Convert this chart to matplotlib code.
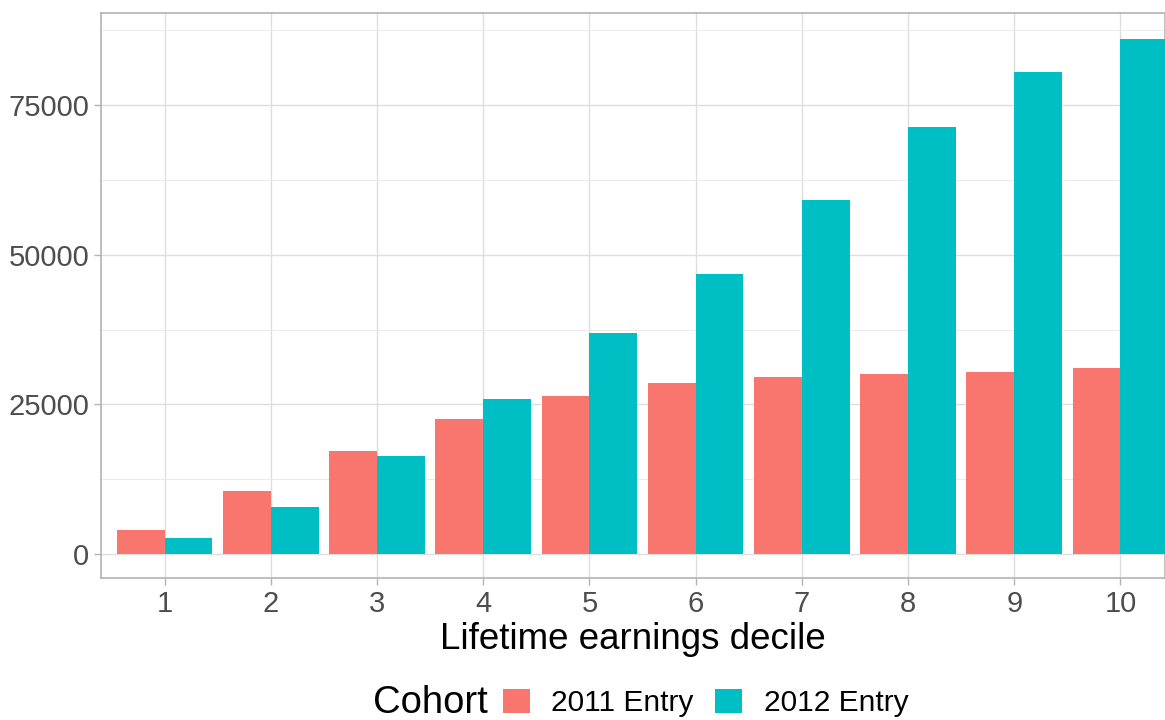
import numpy as np
import matplotlib.pyplot as plt
from matplotlib.patches import Patch

plt.rcParams['font.family'] = ['Liberation Sans', 'DejaVu Sans']

deciles = list(range(1, 11))
entry_2011 = [4000, 10500, 17200, 22500, 26400, 28600, 29600, 30100, 30400, 31100]
entry_2012 = [2700, 7850, 16400, 25900, 36900, 46800, 59100, 71300, 80500, 86000]
cohort_labels = ['2011 Entry', '2012 Entry']
colors = ['#F8766D', '#00BFC4']

fig = plt.figure(figsize=(11.65, 7.2), dpi=100)
ax = fig.add_axes([101 / 1165, 142 / 720, 1064 / 1165, 565 / 720])

x = np.array(deciles)
w = 0.45
ax.bar(x - w / 2, entry_2011, width=w, color=colors[0], zorder=3)
ax.bar(x + w / 2, entry_2012, width=w, color=colors[1], zorder=3)

ax.set_xlim(0.4, 10.42)
ax.set_ylim(-4000, 90400)
ax.set_xticks(deciles)
ax.set_yticks([0, 25000, 50000, 75000])
ax.set_yticks([12500, 37500, 62500, 87500], minor=True)
ax.tick_params(axis='both', which='major', labelsize=21, colors='#b3b3b3',
               labelcolor='#4d4d4d', length=5, width=1)
ax.tick_params(axis='y', which='minor', length=0)
ax.grid(True, which='major', color='#dedede', linewidth=1, zorder=0)
ax.grid(True, which='minor', axis='y', color='#ebebeb', linewidth=0.7, zorder=0)
for s in ax.spines.values():
    s.set_color('#b3b3b3')
    s.set_linewidth(1.2)

ax.set_xlabel('Lifetime earnings decile', fontsize=26.5, labelpad=3)

# legend at the bottom, title on the left
handles = [Patch(facecolor=c, edgecolor='none') for c in colors]
fig.text(373 / 1165, 17 / 720, 'Cohort', fontsize=27.5, va='center', ha='left')
fig.legend(handles, cohort_labels, loc='center left', bbox_to_anchor=(503 / 1165, 17 / 720),
           ncol=2, frameon=False, fontsize=21.5, handlelength=0.9, handleheight=0.9,
           handletextpad=0.72, columnspacing=0.72, borderaxespad=0, borderpad=0)

fig.savefig('out.png', dpi=100)
